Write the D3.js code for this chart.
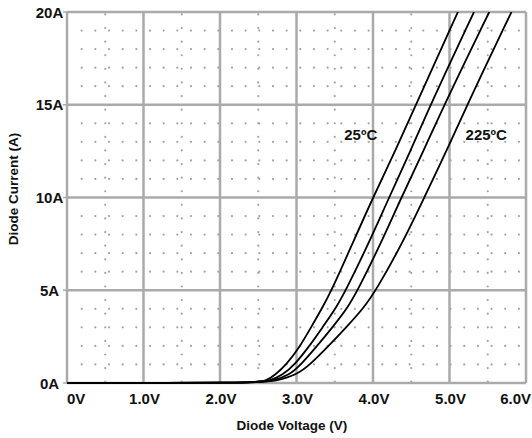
<!DOCTYPE html>
<html>
<head>
<meta charset="utf-8">
<script src="https://cdn.jsdelivr.net/npm/d3@7/dist/d3.min.js"></script>
<style>
    html, body { margin: 0; padding: 0; background: #fff; }
    svg { display: block; }
    text { font-family: "Liberation Sans", Arial, sans-serif; font-weight: bold; fill: #111; }
</style>
</head>
<body>
<div id="chart"></div>
<script>
    "use strict";

    // axis ticks
    var voltTicks = [0, 1, 2, 3, 4, 5, 6];
    var voltLabels = ["0V", "1.0V", "2.0V", "3.0V", "4.0V", "5.0V", "6.0V"];
    var ampTicks = [0, 5, 10, 15, 20];
    var ampLabels = ["0A", "5A", "10A", "15A", "20A"];

    // one curve per temperature, voltage read at these currents
    var currents = [0, 0, 0.1, 0.43, 1, 2, 3, 4, 5, 7.5, 10, 12.5, 15, 20];
    var volts25 = [0, 2.45, 2.6, 2.72, 2.87, 3.05, 3.19, 3.33, 3.46, 3.73, 4.00, 4.29, 4.56, 5.11];
    var voltsB = [0, 2.47, 2.64, 2.82, 2.98, 3.17, 3.34, 3.51, 3.645, 3.94, 4.21, 4.49, 4.75, 5.32];
    var voltsC = [0, 2.49, 2.68, 2.91, 3.06, 3.27, 3.47, 3.66, 3.80, 4.10, 4.37, 4.66, 4.93, 5.52];
    var volts225 = [0, 2.51, 2.72, 3.00, 3.18, 3.42, 3.65, 3.87, 4.04, 4.38, 4.67, 4.96, 5.23, 5.81];
    var curveVolts = [volts25, voltsB, voltsC, volts225];

    // curve labels
    var labelTexts = ["25ºC", "225ºC"];
    var labelVolts = [3.84, 5.48];
    var labelAmps = [13.1, 13.1];

    var width = 532, height = 438;

    var x = d3.scaleLinear().domain([0, 6]).range([67, 526]);
    var y = d3.scaleLinear().domain([0, 20]).range([383, 12]);

    var svg = d3.select("#chart").append("svg")
        .attr("width", width)
        .attr("height", height);

    // background dot pattern (scanned-graph paper)
    var dotCols = d3.range(0.192, 6, 0.1786);
    var dotRows = d3.range(1, 20).filter(function (a) { return a % 5 !== 0; });
    var dots = [];
    dotCols.forEach(function (v) {
        dotRows.forEach(function (a) { dots.push([v, a]); });
    });
    var midCols = [0.5, 1.5, 2.5, 3.5, 4.5, 5.5];
    var midRows = d3.range(0, 28).map(function (k) { return 0.07 + k * 0.7333; });
    midCols.forEach(function (v) {
        midRows.forEach(function (a) { dots.push([v, a]); });
    });

    svg.append("g").selectAll("circle")
        .data(dots)
        .enter()
        .append("circle")
        .attr("cx", function (d) { return x(d[0]); })
        .attr("cy", function (d) { return y(d[1]); })
        .attr("r", 1.1)
        .attr("fill", "#a3a3a3");

    // major grid
    var grid = svg.append("g").attr("stroke", "#aaa").attr("stroke-width", 2.5);
    grid.selectAll("line.v")
        .data(voltTicks)
        .enter()
        .append("line")
        .attr("class", "v")
        .attr("x1", function (d) { return x(d); })
        .attr("x2", function (d) { return x(d); })
        .attr("y1", y(20))
        .attr("y2", y(0));
    grid.selectAll("line.h")
        .data(ampTicks)
        .enter()
        .append("line")
        .attr("class", "h")
        .attr("x1", x(0))
        .attr("x2", x(6))
        .attr("y1", function (d) { return y(d); })
        .attr("y2", function (d) { return y(d); });

    // small ticks on the left edge
    grid.selectAll("line.t")
        .data(ampTicks)
        .enter()
        .append("line")
        .attr("class", "t")
        .attr("stroke-width", 1.5)
        .attr("x1", x(0) - 4)
        .attr("x2", x(0))
        .attr("y1", function (d) { return y(d); })
        .attr("y2", function (d) { return y(d); });

    // curves
    svg.append("clipPath").attr("id", "plot")
        .append("rect")
        .attr("x", x(0) - 2).attr("y", y(20))
        .attr("width", x(6) - x(0) + 4).attr("height", y(0) - y(20) + 2);

    var line = d3.line()
        .x(function (d) { return x(d[0]); })
        .y(function (d) { return y(d[1]); })
        .curve(d3.curveBasis);

    svg.append("g")
        .attr("clip-path", "url(#plot)")
        .selectAll("path")
        .data(curveVolts.map(function (vs) {
            return vs.map(function (v, i) { return [v, currents[i]]; });
        }))
        .enter()
        .append("path")
        .attr("d", line)
        .attr("fill", "none")
        .attr("stroke", "#000")
        .attr("stroke-width", 1.8);

    // tick labels
    svg.append("g").selectAll("text")
        .data(ampTicks)
        .enter()
        .append("text")
        .attr("x", 49.5)
        .attr("y", function (d) { return y(d) + 5.5; })
        .attr("text-anchor", "middle")
        .style("font-size", "15px")
        .text(function (d, i) { return ampLabels[i]; });

    svg.append("g").selectAll("text")
        .data(voltTicks)
        .enter()
        .append("text")
        .attr("x", function (d, i) {
            if (i === 0) return x(d);
            if (i === voltTicks.length - 1) return width - 1;
            return x(d) + 1;
        })
        .attr("y", 404)
        .attr("text-anchor", function (d, i) {
            if (i === 0) return "start";
            if (i === voltTicks.length - 1) return "end";
            return "middle";
        })
        .style("font-size", "15px")
        .text(function (d, i) { return voltLabels[i]; });

    // axis titles
    svg.append("text")
        .attr("x", 292)
        .attr("y", 430)
        .attr("text-anchor", "middle")
        .style("font-size", "13.5px")
        .text("Diode Voltage (V)");

    svg.append("text")
        .attr("transform", "translate(18,189) rotate(-90)")
        .attr("text-anchor", "middle")
        .style("font-size", "13.5px")
        .text("Diode Current (A)");

    // temperature labels
    svg.append("g").selectAll("text")
        .data(labelTexts)
        .enter()
        .append("text")
        .attr("x", function (d, i) { return x(labelVolts[i]); })
        .attr("y", function (d, i) { return y(labelAmps[i]); })
        .attr("text-anchor", "middle")
        .style("font-size", "15px")
        .text(function (d) { return d; });
</script>
</body>
</html>
